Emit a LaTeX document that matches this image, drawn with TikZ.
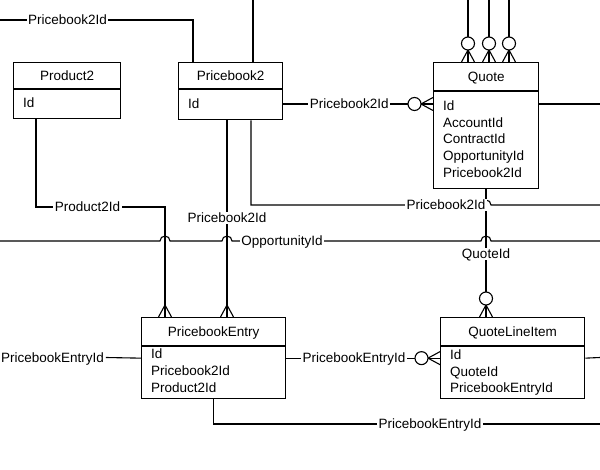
\documentclass[tikz,border=0pt]{standalone}
\usepackage{fontspec}
\setmainfont{Liberation Sans}
\usetikzlibrary{calc}
\newcommand\entbox[9]{% name, x, y, w, h, divider offset, title, first row offset, rows
  \node[ent, minimum width=#4pt, minimum height=#5pt] (#1) at (#2,#3) {};
  \draw[line width=1.3pt] ($(#1.north west)+(0,#6)$) -- ($(#1.north east)+(0,#6)$);
  \node[anchor=base] (#1-title) at ($(#1.north)+(0,#6/2+4.8)$) {#7};
  \foreach \t [count=\i] in {#9}
    \node[anchor=base west, inner sep=0pt] (#1-r\i) at ($(#1.north west)+(9.5,#6+#8+\i*16.8-16.8+4.8)$) {\t};
}
\newcommand\zfootV[1]{%
  \draw ($(#1)+(0,-12)$) -- ($(#1)+(-6.5,0)$) ($(#1)+(0,-12)$) -- ($(#1)+(6.5,0)$);
  \draw[fill=white] ($(#1)+(0,-18.5)$) circle (6.5);}
\newcommand\mfootV[1]{%
  \draw ($(#1)+(0,-12)$) -- ($(#1)+(-6.5,0)$) ($(#1)+(0,-12)$) -- ($(#1)+(6.5,0)$);}
\newcommand\zfootH[1]{%
  \draw ($(#1)+(-12,0)$) -- ($(#1)+(0,-6.5)$) ($(#1)+(-12,0)$) -- ($(#1)+(0,6.5)$);
  \draw[fill=white] ($(#1)+(-18.5,0)$) circle (6.5);}
\begin{document}
\begin{tikzpicture}[x=1pt,y=-1pt,line width=1.1pt,
  every node/.style={font=\fontsize{13.5}{16}\selectfont},
  ent/.style={draw, line width=1.3pt, inner sep=0pt, anchor=north west},
  lbl/.style={fill=white, inner sep=1.5pt, text height=9.7pt, text depth=0pt}]
\useasboundingbox[fill=white] (0,0) rectangle (600,470);
\coordinate (top) at (0,0);

% entities
\entbox{prod}{13}{62}{107}{56}{27}{Product2}{14}{Id}
\entbox{pb2}{178}{62}{104}{57}{27}{Pricebook2}{15}{Id}
\entbox{quote}{433}{62}{105}{126}{29}{Quote}{14.5}{Id,AccountId,ContractId,OpportunityId,Pricebook2Id}
\entbox{pbe}{141}{317}{144}{81}{29}{PricebookEntry}{8}{Id,Pricebook2Id,Product2Id}
\entbox{qli}{440}{317}{144}{81}{29}{QuoteLineItem}{8.5}{Id,QuoteId,PricebookEntryId}

% 1: top-left Pricebook2Id
\coordinate (eTL) at (0,20);
\coordinate (pbA) at ($(pb2.north west)+(15,0)$);
\draw (eTL) -- node[lbl, pos=0.35] (l1) {Pricebook2Id} (eTL -| pbA) -- (pbA);

% 2: vertical into Pricebook2 from top
\coordinate (pbT) at ($(pb2.north west)+(75,0)$);
\draw (pbT |- top) -- (pbT);

% 3: Pricebook2 -> Quote
\coordinate (pbR) at ($(pb2.north east)+(0,42)$);
\coordinate (qIn) at (pbR -| quote.west);
\draw (pbR) -- node[lbl, pos=0.44] (l3) {Pricebook2Id} (qIn);
\zfootH{qIn}

% 4: Quote -> right edge
\coordinate (eR1) at (600,104);
\draw (quote.east |- pbR) -- (eR1);

% 5: three verticals into Quote
\foreach \dx [count=\k] in {35,56,76} {
  \coordinate (qt\k) at ($(quote.north west)+(\dx,0)$);
  \draw (qt\k |- top) -- (qt\k);
  \zfootV{qt\k}
}

% 6: Product2 -> PricebookEntry
\coordinate (prB) at ($(prod.south west)+(23,0)$);
\coordinate (peA) at ($(pbe.north west)+(24,0)$);
\coordinate (y207) at (0,207);
\draw (prB) -- (prB |- y207) -- node[lbl, pos=0.40] (l6) {Product2Id} (peA |- y207) -- (peA);
\mfootV{peA}

% 7: Pricebook2 -> PricebookEntry
\coordinate (pbB1) at ($(pb2.south west)+(49,0)$);
\coordinate (peB) at (pbB1 |- pbe.north);
\draw (pbB1) -- (peB);
\mfootV{peB}

% 9 coordinate: Quote bottom
\coordinate (qB) at ($(quote.south west)+(53,0)$);

% 8: Pricebook2 -> right edge at y 205
\coordinate (pbB2) at ($(pb2.south west)+(73,0)$);
\coordinate (eR2) at (600,205);
\draw (pbB2) -- (pbB2 |- eR2) -- ($(qB |- eR2)+(-5,0)$) arc (180:360:5) -- (eR2);

% 9: Quote -> QuoteLineItem
\coordinate (qliIn) at (qB |- qli.north);
\draw (qB) -- (qliIn);
\zfootV{qliIn}

% 10: OpportunityId line
\coordinate (eL3) at (0,241);
\coordinate (eR3) at (600,241);
\draw (eL3) -- ($(peA |- eL3)+(-5,0)$) arc (180:360:5)
  -- ($(pbB1 |- eL3)+(-5,0)$) arc (180:360:5)
  -- ($(qB |- eL3)+(-5,0)$) arc (180:360:5) -- (eR3);

% labels on crossing lines
\node[lbl] (l7) at (pbB1 |- 0,218) {Pricebook2Id};
\node[lbl] (l8) at (446,205) {Pricebook2Id};
\node[lbl] (l9) at (qB |- 0,254) {QuoteId};
\node[lbl] (l10) at (282,241) {OpportunityId};

% 11: left edge -> PricebookEntry
\node[lbl] (l11) at (52.5,357.5) {PricebookEntryId};
\draw (l11.east) -- (pbe.west);

% 12: PricebookEntry -> QuoteLineItem
\draw (pbe.east) -- node[lbl, pos=0.44] (l12) {PricebookEntryId} (qli.west);
\zfootH{qli.west}

% 13: QuoteLineItem -> right edge
\coordinate (eR5) at (600,357.5);
\draw (qli.east) -- (eR5);

% 14: PricebookEntry bottom -> right edge
\coordinate (eR4) at (600,424);
\draw (pbe.south) -- (pbe.south |- eR4) -- node[lbl, pos=0.56] (l14) {PricebookEntryId} (eR4);
\end{tikzpicture}
\end{document}
